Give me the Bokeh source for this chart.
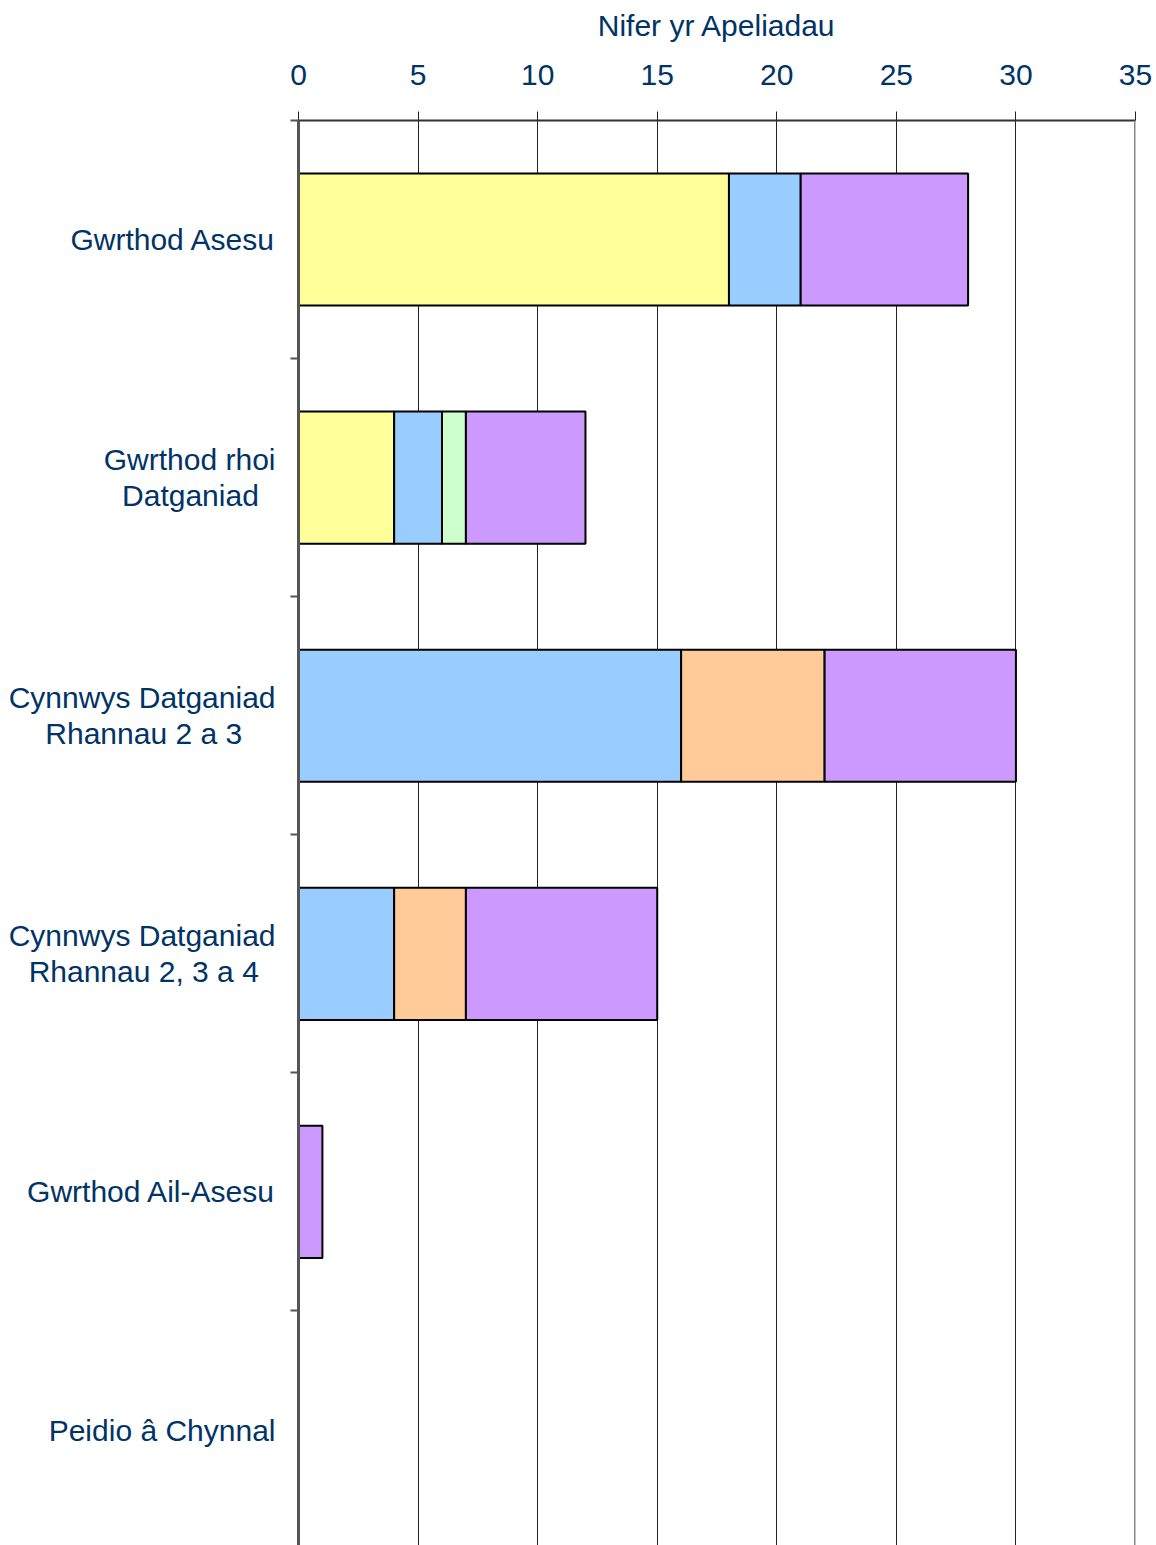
from bokeh.plotting import figure
from bokeh.models import Range1d, FixedTicker, Span
from bokeh.embed import file_html
from bokeh.resources import INLINE

# ---- data ----
categories = ["Gwrthod Asesu", "Gwrthod rhoi\nDatganiad", "Cynnwys Datganiad\nRhannau 2 a 3",
              "Cynnwys Datganiad\nRhannau 2, 3 a 4", "Gwrthod Ail-Asesu", "Peidio â Chynnal"]
series_yellow = [18, 4, 0, 0, 0, 0]
series_blue = [3, 2, 16, 4, 0, 0]
series_green = [0, 1, 0, 0, 0, 0]
series_orange = [0, 0, 6, 3, 0, 0]
series_purple = [7, 5, 8, 8, 1, 0]
x_ticks = [0, 5, 10, 15, 20, 25, 30, 35]
axis_title = "Nifer yr Apeliadau"

series = [series_yellow, series_blue, series_green, series_orange, series_purple]
colors = ["#FFFF99", "#99CCFF", "#CCFFCC", "#FFCC99", "#CC99FF"]

TEXT = "#003366"
FONT = "Liberation Sans"
FS = "30px"
NBSP = "\u00a0"
# trailing no-break spaces so that the lines of a two-line label look centred
line_pad = {1: 2, 2: 4, 3: 2}

n = len(categories)
p = figure(width=1156, height=1545, output_backend="svg", toolbar_location=None,
           x_axis_location="above", x_range=Range1d(0, 35), y_range=Range1d(5.985, 0),
           min_border_left=298, min_border_top=120, min_border_right=21, min_border_bottom=0)
p.outline_line_color = None
p.background_fill_color = "white"

centers = [i + 0.5 for i in range(n)]
cum = [0] * n
for vals, col in zip(series, colors):
    ys, lefts, rights = [], [], []
    for i, v in enumerate(vals):
        if v > 0:
            ys.append(centers[i]); lefts.append(cum[i]); rights.append(cum[i] + v)
        cum[i] += v
    if ys:
        p.hbar(y=ys, left=lefts, right=rights, height=0.555, fill_color=col,
               line_color="black", line_width=2)

# grid
p.ygrid.grid_line_color = None
p.xgrid.ticker = FixedTicker(ticks=x_ticks[:-1])
p.xgrid.grid_line_color = "#222222"
p.xgrid.grid_line_width = 1
p.add_layout(Span(location=x_ticks[-1], dimension="height", line_color="#888888", line_width=3))

# top axis
xa = p.xaxis[0]
xa.ticker = FixedTicker(ticks=x_ticks, minor_ticks=[])
xa.axis_label = axis_title
xa.axis_label_text_font = FONT
xa.axis_label_text_font_size = FS
xa.axis_label_text_font_style = "normal"
xa.axis_label_text_color = TEXT
xa.axis_label_standoff = 20
xa.major_label_text_font = FONT
xa.major_label_text_font_size = FS
xa.major_label_text_color = TEXT
xa.major_label_standoff = 27
xa.major_tick_out = 9
xa.major_tick_in = 0
xa.major_tick_line_color = "#222222"
xa.axis_line_color = "#333333"
xa.axis_line_width = 2

# left axis: names at category centres, ticks at category boundaries
def label_for(i, name):
    if "\n" in name:
        a, b = name.split("\n")
        return a + "\n" + b + NBSP * line_pad.get(i, 0)
    return name

ya = p.yaxis[0]
ya.ticker = FixedTicker(ticks=centers, minor_ticks=list(range(n + 1)))
ya.major_label_overrides = {c: label_for(i, lab) for i, (c, lab) in enumerate(zip(centers, categories))}
ya.major_label_text_font = FONT
ya.major_label_text_font_size = FS
ya.major_label_text_color = TEXT
ya.major_label_text_line_height = 1.1
ya.major_tick_line_color = None
ya.major_tick_out = 8
ya.major_tick_in = 0
ya.major_label_standoff = 15
ya.minor_tick_out = 8
ya.minor_tick_in = 0
ya.minor_tick_line_color = "#555555"
ya.minor_tick_line_width = 2
ya.axis_line_color = "#555555"
ya.axis_line_width = 3

open("out.html", "w").write(file_html(p, INLINE))
